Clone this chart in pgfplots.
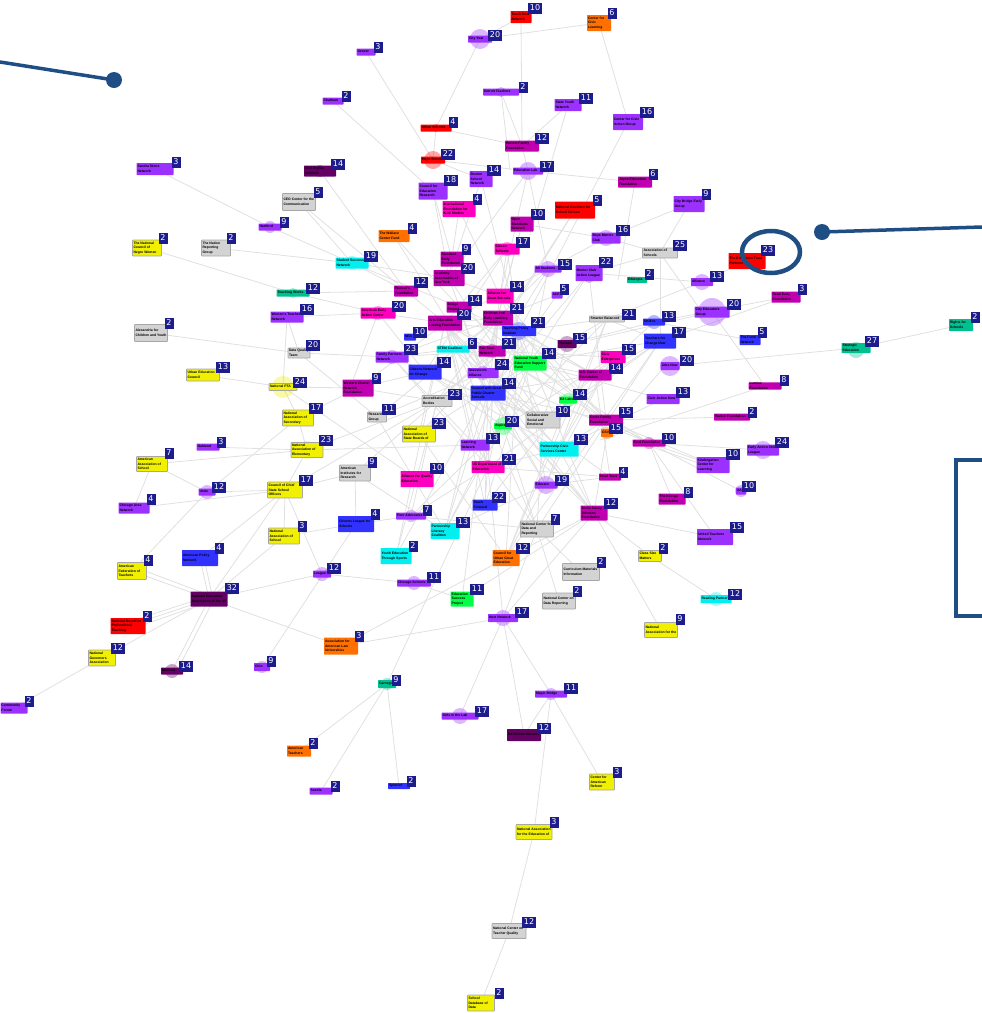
\documentclass[border=0pt]{standalone}
\usepackage{fontspec}
\setmainfont{Liberation Sans}
\newfontfamily\badgefont{DejaVu Sans}
\usepackage{pgfplots}
\pgfplotsset{compat=1.18}

\definecolor{pur}{HTML}{9B30FF}
\definecolor{mag}{HTML}{C000B0}
\definecolor{pnk}{HTML}{FF00C0}
\definecolor{blu}{HTML}{3232FF}
\definecolor{cya}{HTML}{00F0F0}
\definecolor{yel}{HTML}{F0F000}
\definecolor{rd}{HTML}{FF0000}
\definecolor{org}{HTML}{FF7000}
\definecolor{tea}{HTML}{00C090}
\definecolor{grn}{HTML}{00FF44}
\definecolor{drk}{HTML}{640064}
\definecolor{gry}{HTML}{D3D3D3}
\definecolor{nvy}{HTML}{1C1C8C}
\definecolor{callout}{HTML}{1F4E85}
\definecolor{edge}{HTML}{E0E0E0}

\pgfdeclareplotmark{ring}{%
  \pgfpathellipse{\pgfpointorigin}{\pgfpoint{29pt}{0pt}}{\pgfpoint{0pt}{21pt}}%
  \pgfusepathqstroke}

\pgfplotsset{
  boxes/.style={only marks, mark=none, point meta=explicit symbolic,
    visualization depends on={value \thisrow{w}\as\bw},
    visualization depends on={value \thisrow{h}\as\bh},
    nodes near coords={\parbox{\dimexpr\bw pt-2pt\relax}{\raggedright\hyphenpenalty=10000
      \fontsize{3.4}{4.6}\selectfont\bfseries\pgfplotspointmeta}},
    every node near coord/.append style={anchor=center, fill=#1, text=black, inner sep=0pt,
      minimum width=\bw pt, minimum height=\bh pt, rounded corners=0.6pt}},
  halo/.style={only marks, scatter, mark=*,
    visualization depends on={\thisrow{r}\as\perpointmarksize},
    scatter/@pre marker code/.style={/tikz/mark size=\perpointmarksize},
    scatter/@post marker code/.style={},
    mark options={fill=#1, draw opacity=0, fill opacity=0.35}},
  rim/.style={every node near coord/.append style={draw=black!35, line width=0.6pt}},
}

\begin{document}
\begin{tikzpicture}
\useasboundingbox (0,0) rectangle (982pt,1013pt);
\begin{axis}[
  scale only axis, width=982pt, height=1013pt,
  xmin=0, xmax=982, ymin=0, ymax=1013, y dir=reverse, hide axis,
]
% links
\addplot[edge, line width=0.8pt, quiver={u=\thisrow{x1}-\thisrow{x0}, v=\thisrow{y1}-\thisrow{y0}}]
  table[x=x0, y=y0] {
x0 y0 x1 y1
366 52 433 160
333 101 433 191
155 169 270 227
270 227 352 263
352 263 406 291
299 202 352 263
299 202 406 291
320 171 406 291
406 291 445 323
480 39 436 128
480 39 521 17
480 39 599 23
521 17 522 146
599 23 628 122
628 122 519 331
501 92 522 146
501 92 510 170
568 105 522 146
568 105 530 235
436 128 433 160
436 128 522 146
433 160 528 171
433 160 481 179
433 191 449 278
433 191 452 259
459 209 449 278
459 209 500 296
394 236 459 307
394 236 449 323
147 248 293 293
293 293 378 313
293 293 406 291
216 248 352 263
352 263 449 278
352 263 459 307
287 317 378 313
287 317 299 353
287 317 283 387
151 333 299 353
299 353 392 357
299 353 377 417
203 375 283 387
283 387 358 388
283 387 298 418
283 387 417 479
298 418 307 450
298 418 358 388
298 418 207 492
307 450 208 447
307 450 152 464
307 450 285 490
307 450 437 401
307 450 475 445
152 464 207 492
152 464 134 508
134 508 285 490
207 492 285 490
207 492 132 571
285 490 437 401
285 490 200 558
285 490 209 599
285 490 322 574
285 490 284 536
285 490 355 473
284 536 356 524
284 536 209 599
356 524 411 516
356 524 262 667
322 574 209 599
322 574 414 583
414 583 462 599
355 473 356 524
355 473 445 531
355 473 437 401
200 558 209 599
204 558 213 599
132 571 209 599
132 566 209 595
128 626 209 599
128 622 209 596
128 630 209 602
102 658 209 599
172 671 209 599
177 671 214 599
209 599 341 646
14 708 102 658
341 646 503 618
503 618 488 467
503 618 524 735
503 618 460 716
503 618 551 694
503 618 537 529
503 618 594 513
551 694 524 735
551 694 602 782
551 694 534 832
534 832 509 931
509 931 481 1003
387 684 299 751
387 684 321 791
387 684 399 786
387 684 488 467
594 513 661 630
594 513 650 556
594 513 715 537
650 556 716 599
537 529 581 572
537 529 559 601
649 443 715 537
649 443 713 465
649 446 713 468
649 443 763 450
649 443 672 499
606 420 741 491
606 420 713 465
606 420 649 443
610 477 560 440
670 366 856 348
856 348 961 325
765 386 600 440
732 417 606 420
654 322 750 340
654 322 786 297
712 312 765 386
786 297 660 341
712 312 590 340
747 261 702 282
702 282 607 319
702 282 589 273
660 253 606 238
660 253 660 341
660 253 702 312
660 253 589 273
606 238 689 204
606 238 522 224
606 238 548 269
689 204 660 253
635 182 528 171
635 182 618 280
575 210 510 310
575 210 500 330
445 323 498 318
445 323 519 331
445 323 488 393
445 323 483 373
445 323 530 363
445 323 492 351
445 323 543 420
498 318 488 393
498 318 530 363
498 318 543 420
498 318 595 375
498 318 437 401
519 331 595 375
519 331 607 319
519 331 475 445
519 331 419 434
519 331 503 426
519 331 546 485
488 393 543 420
488 393 606 420
488 393 445 531
488 393 485 505
483 373 543 420
483 373 559 449
483 373 546 485
483 373 377 417
530 363 606 420
530 363 595 375
530 363 419 434
530 363 485 505
530 363 607 319
492 351 392 357
492 351 437 401
492 351 568 400
492 351 613 357
453 349 392 357
453 349 543 420
453 349 594 513
425 372 543 420
425 372 503 426
425 372 498 318
425 372 559 449
392 357 543 420
392 357 475 445
392 357 498 318
437 401 519 331
437 401 595 375
437 401 411 516
437 401 396 556
377 417 498 318
377 417 445 531
419 434 445 323
419 434 506 558
475 445 445 323
475 445 537 529
475 445 613 357
503 426 594 513
503 426 607 319
503 426 537 529
503 426 411 516
503 426 445 531
543 420 613 357
543 420 537 529
543 420 660 341
568 400 654 322
568 400 485 505
568 400 506 558
595 375 660 341
595 375 610 477
595 375 559 449
613 357 559 449
613 357 506 558
567 344 498 318
567 344 488 393
567 344 543 420
567 344 654 322
607 319 506 558
607 319 559 449
607 319 660 341
557 295 498 318
557 295 488 393
589 273 530 363
589 273 606 420
589 273 488 393
548 269 445 323
548 269 498 318
548 269 483 373
548 269 530 363
507 249 445 323
507 249 519 331
507 249 492 351
507 249 425 372
522 224 498 318
522 224 483 373
522 146 528 171
528 171 500 296
528 171 548 269
528 171 449 278
481 179 449 278
481 179 519 331
500 296 449 278
500 296 530 363
500 296 606 420
449 278 483 373
449 278 543 420
459 307 488 393
459 307 530 363
459 307 595 375
378 313 445 323
378 313 425 372
378 313 350 388
358 388 425 372
358 388 437 401
358 388 445 323
606 420 559 449
606 420 445 323
606 420 519 331
559 449 445 323
559 449 546 485
559 449 594 513
559 449 488 467
546 485 445 531
546 485 610 477
546 485 445 323
488 467 445 323
488 467 498 318
488 467 519 331
488 467 392 357
488 467 610 477
485 505 498 318
485 505 445 323
506 558 594 513
506 558 519 331
506 558 341 646
537 529 445 323
537 529 660 341
594 513 488 393
594 513 445 323
594 513 519 331
607 433 665 366
607 433 519 331
607 433 594 513
649 443 483 373
649 443 530 363
663 399 559 449
663 399 530 363
660 341 506 558
660 341 488 467
660 341 530 363
411 516 488 467
411 516 537 529
396 556 445 323
396 556 519 331
445 531 498 318
445 531 530 363
462 599 488 393
462 599 594 513
};
% halos behind the labels
\addplot[halo=pur] table {
x y r
480 39 10
501 92 5
528 171 9
270 227 6
606 238 8
548 269 8
589 278 5
702 282 8
712 312 14
392 357 7
483 373 7
670 366 10
763 450 9
741 491 6
546 485 9
207 492 7
411 516 6
322 574 7
414 583 7
503 618 8
262 667 6
551 694 6
460 716 8
};
\addplot[halo=rd] table {
x y r
433 160 9
436 128 4
};
\addplot[halo=cya] table {
x y r
352 263 7
716 599 7
};
\addplot[halo=tea] table {
x y r
293 293 5
856 350 8
387 684 6
};
\addplot[halo=pnk] table {
x y r
378 313 7
507 249 7
488 467 7
};
\addplot[halo=mag] table {
x y r
492 351 7
649 443 6
};
\addplot[halo=blu] table {
x y r
519 331 9
654 322 7
};
\addplot[halo=drk] table {
x y r
320 171 6
567 344 8
172 671 7
209 599 7
};
\addplot[halo=yel] table {
x y r
283 387 11
307 450 9
};
\addplot[halo=grn] table {
x y r
503 426 9
568 400 7
};
\addplot[halo=org] table {
x y r
607 433 6
};
% boxes, one plot for each colour
\addplot[boxes=pur] table[col sep=comma, meta=label] {
x,y,w,h,label
155,169,37,12,Sandra Stone Network
366,52,19,7,Denver
333,101,21,7,Chatham
270,227,23,7,Hartford
433,191,29,17,Council for Education Research
481,179,23,16,Boston School Network
287,317,33,11,Women's Teacher Network
480,39,24,7,City Year
501,92,36,7,Detroit Teachers
568,105,27,12,State Youth Network
628,122,30,16,Center for Civic Action Group
528,171,30,7,Education Lab
689,204,31,16,City Bridge Early Group
606,238,29,11,Boys Mentor Club
548,269,27,7,All Students
589,273,27,16,Mentor Club Action League
702,282,22,8,Alliance
712,312,35,11,City Educators Group
392,357,33,11,Family Partners Network
483,373,31,10,Grassroots Alliance
670,366,19,8,Jobs Now
663,399,33,10,Civic Action Now
713,465,33,16,Kindergarten Center for Learning
763,450,32,11,Early Action Child League
741,491,10,7,AAP
546,485,23,7,Educare
715,537,36,16,United Teachers Network
475,445,29,11,Learning Network
208,447,23,7,Oakland
134,508,31,11,Chicago Area Network
207,492,17,7,Unite
411,516,30,7,Peer Advocates
322,574,18,7,League
414,583,34,7,Chicago Schools
503,618,30,8,Next Network
262,667,16,8,Ohio
14,708,27,11,Community Forum
551,694,32,7,Magic Bridge
460,716,37,7,Girls in the Lab
321,791,23,7,Seattle
557,295,11,7,ACE
};
\addplot[boxes=mag] table[col sep=comma, meta=label] {
x,y,w,h,label
452,259,23,15,Standard Early Foundation
449,278,31,16,Academy Association of New York
406,291,24,11,Women's Foundation
459,307,25,11,Bridge Project
445,323,34,15,Arts Education Lasting Foundation
498,318,30,15,Children and Early Learning Foundation
492,351,27,11,Fair Start Network
522,146,34,11,Harlem Family Foundation
635,182,34,11,Joyce Education Foundation
522,224,23,15,Open Standards Network
786,297,29,11,Read Early Foundation
595,375,33,11,U.S. Center of Foundation
358,388,31,17,Western Charter Network Foundation
606,420,34,11,Gates Family Foundation
649,443,33,7,Ford Foundation
610,477,22,7,Head Start
672,499,27,11,The Kresge Foundation
594,513,27,15,Annie Casey Johnson Foundation
765,386,33,7,Lumina Foundation
732,417,36,7,Walton Foundation
};
\addplot[boxes=pnk] table[col sep=comma, meta=label] {
x,y,w,h,label
459,209,33,16,International Foundation for K-12 Studies
378,313,35,11,American Early Action Center
500,296,27,15,Alliance for Great Schools
507,249,25,11,Citizen Schools
613,357,25,12,Civic Enterprises
417,479,33,16,Alliance for Quality Education
488,467,33,12,US Department of Education
};
\addplot[boxes=blu] table[col sep=comma, meta=label] {
x,y,w,h,label
410,337,12,7,NEA
519,331,34,10,Teaching Policy Institute
425,372,33,15,Citizens Network for Change
488,393,35,15,Council with Great Public Charter Schools
654,322,22,7,Unidos
750,340,21,10,The Fund Network
660,341,32,15,Teachers for Change Now
485,505,25,11,Teach Forward
356,524,36,16,Citizens League for Schools
200,558,36,16,American Policy Network
399,786,22,6,Spencer
};
\addplot[boxes=cya] table[col sep=comma, meta=label] {
x,y,w,h,label
352,263,33,11,Student Success Network
453,349,33,7,STEM Coalition
559,449,39,15,Partnership Civic Services Center
445,531,29,16,Partnership Literacy Coalition
396,556,31,16,Youth Education Through Sports
716,599,31,8,Reading Partners
};
\addplot[boxes=yel, rim] table[col sep=comma, meta=label] {
x,y,w,h,label
147,248,29,16,The National Council of Negro Women
203,375,33,12,Urban Education Council
283,387,28,7,National PTA
298,418,31,16,National Association of Secondary
307,450,32,15,National Association of Elementary
419,434,33,16,National Association of State Boards of
152,464,31,15,American Association of School
285,490,35,16,Council of Chief State School Officers
284,536,31,16,National Association of School
132,571,29,17,American Federation of Teachers
102,658,27,16,National Governors Association
650,556,23,11,Class Size Matters
661,630,33,15,National Association for the
602,782,25,16,Center for American Reform
534,832,36,15,National Association for the Education of
481,1003,27,16,School Database of Data
};
\addplot[boxes=rd] table[col sep=comma, meta=label] {
x,y,w,h,label
436,128,31,7,Urban Schools
433,160,24,7,Hope Street
521,17,21,12,Teach Now Network
575,210,40,17,National Coalition for School Reform
747,261,37,16,The Education Trust Partners
128,626,35,16,National Board for Professional Teaching
};
\addplot[boxes=org] table[col sep=comma, meta=label] {
x,y,w,h,label
394,236,31,12,The Wallace Center Fund
599,23,24,16,Center for Civic Learning
607,433,12,8,GSV
506,558,27,16,Council for Urban Great Education
341,646,34,17,Association for American Law Universities
299,751,24,11,American Teachers
};
\addplot[boxes=tea] table[col sep=comma, meta=label] {
x,y,w,h,label
293,293,33,7,Teaching Works
637,280,20,6,Edutopia
856,348,29,10,Strategic Education
961,325,24,12,Rights for Schools
387,684,18,8,Carnegie
};
\addplot[boxes=grn] table[col sep=comma, meta=label] {
x,y,w,h,label
530,363,33,15,National Youth Education Support Fund
568,400,18,7,Ed Labs
503,426,18,6,Aspire
462,599,23,15,Education Success Project
};
\addplot[boxes=drk] table[col sep=comma, meta=label] {
x,y,w,h,label
320,171,32,11,Civil Rights Network
567,344,19,8,Pearson
209,599,37,15,National Education Association of the US
172,671,22,7,McGraw
524,735,34,12,Ed Reform Network
};
\addplot[boxes=gry, rim] table[col sep=comma, meta=label] {
x,y,w,h,label
299,202,33,17,CEO Center for the Communication
216,248,29,16,The Nation Reporting Group
151,333,33,17,Alexandria for Children and Youth
660,253,35,10,Association of Schools
607,319,35,6,Smarter Balanced
299,353,22,10,Data Quality Team
437,401,30,11,Accreditation Bodies
377,417,19,10,Research Group
543,420,34,16,Collaborative Social and Emotional
355,473,31,16,American Institutes for Research
537,529,33,16,National Center for Data and Reporting
581,572,37,17,Curriculum Materials Information
559,601,33,16,National Center on Data Reporting
509,931,34,15,National Center on Teacher Quality
};
% count badges
\addplot[only marks, mark=none, point meta=explicit symbolic,
  nodes near coords,
  every node near coord/.append style={anchor=center, fill=nvy, text=white, inner xsep=1.6pt, inner ysep=0pt,
    minimum height=11pt, minimum width=9pt, font=\badgefont\fontsize{8}{8}\selectfont}]
  table[meta=n] {
x y n
176 162 3
378 47 3
346 96 2
453 122 4
448 154 22
338 164 14
318 192 5
451 180 18
494 170 14
477 199 4
412 228 4
284 222 9
163 238 2
231 238 2
371 256 19
466 249 9
468 268 20
421 282 12
313 288 12
307 309 16
399 306 20
475 300 14
464 314 20
420 332 10
169 323 2
517 286 14
564 289 5
517 308 21
538 322 21
472 343 6
509 343 21
580 338 15
411 349 23
444 362 14
549 353 14
502 364 24
616 368 14
629 349 15
509 383 14
455 394 23
580 394 14
563 411 10
389 409 11
512 421 20
439 423 23
493 438 13
626 412 15
616 428 15
581 439 13
669 438 10
623 472 4
562 480 19
688 492 8
733 454 10
782 442 24
749 486 10
784 380 8
752 412 2
683 392 13
687 360 20
872 341 27
762 332 5
679 332 17
611 503 12
555 519 7
523 548 12
601 562 2
577 591 2
522 612 17
663 548 2
680 619 9
735 594 12
737 527 15
499 497 22
509 459 21
535 8 10
612 13 6
495 35 20
523 87 2
586 98 11
647 112 16
542 138 12
547 166 17
653 174 6
706 194 9
597 200 5
538 214 10
623 230 16
680 245 25
523 242 17
768 250 23
565 264 15
606 262 22
649 274 2
717 276 13
802 289 3
734 304 20
629 314 21
669 316 13
975 317 2
313 345 20
223 367 13
300 382 24
376 378 9
316 408 17
326 440 23
221 442 3
169 453 7
151 499 4
219 487 12
306 480 17
372 462 9
437 468 10
427 510 7
375 514 4
302 526 3
463 522 13
413 546 2
219 548 4
148 560 4
334 568 12
434 577 11
477 589 11
232 588 32
147 616 2
118 648 12
359 636 3
186 666 14
271 661 9
29 701 2
396 680 9
571 688 11
482 711 17
544 728 12
313 743 2
411 781 2
335 786 2
617 772 3
554 822 3
529 922 12
499 993 2
};
% call-outs drawn over the network
\addplot[callout, line width=3.5pt] coordinates {(0,62) (114,80)};
\addplot[callout, line width=3.5pt] coordinates {(822,232) (982,227)};
\addplot[only marks, mark=*, mark size=8pt, mark options={fill=callout, draw opacity=0}] coordinates {(114,80) (822,232)};
\addplot[callout, line width=3.5pt] coordinates {(982,460) (956,460) (956,616) (982,616)};
\addplot[only marks, mark=ring, mark options={draw=callout, line width=4.5pt}] coordinates {(771,252)};
\end{axis}
\end{tikzpicture}
\end{document}
